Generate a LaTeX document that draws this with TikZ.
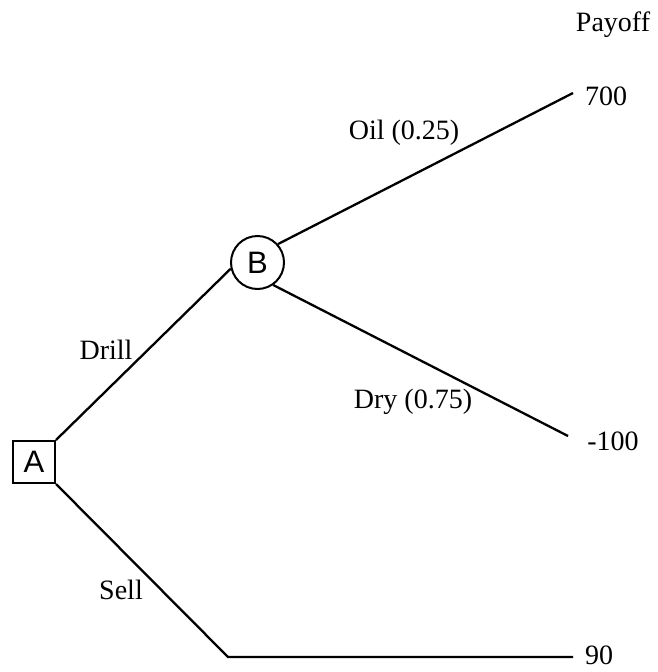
\documentclass[tikz,border=0pt]{standalone}
\usepackage{fontspec}
\setmainfont{Liberation Serif}
\newfontfamily\labelsans{Liberation Sans}
\begin{document}
\begin{tikzpicture}[x=1pt,y=-1pt,
  branch/.style={line width=2.3pt},
  lbl/.style={font=\fontsize{28}{32}\selectfont, inner sep=0pt},
  decision/.style={draw, line width=2pt, minimum size=42pt, inner sep=0pt,
    font=\labelsans\fontsize{31}{34}\selectfont},
  chance/.style={circle, draw, line width=2pt, minimum size=53pt, inner sep=0pt,
    font=\labelsans\fontsize{31}{34}\selectfont}]
\useasboundingbox (0,0) rectangle (657,672);

% decision and chance nodes
\node[decision] (A) at (34,462) {A};
\node[chance] (B) at (257.5,262.5) {B};

% branch end points
\coordinate (oilEnd) at (573,93);
\coordinate (dryEnd) at (568,436);
\coordinate (sellBend) at (228,657);
\coordinate (sellEnd) at (573,657);

% branches
\draw[branch] (A.north east) -- (B.193);
\draw[branch] (B.42) -- (oilEnd);
\draw[branch] (B.-55) -- (dryEnd);
\draw[branch, line join=miter] (A.south east) -- (sellBend) -- (sellEnd);

% labels
\node[lbl] (payoff) at (613,25) {Payoff};
\node[lbl] (v700) at (606,96) {700};
\node[lbl] (vm100) at (613,441) {-100};
\node[lbl] (v90) at (599,655) {90};
\node[lbl] (oil) at (404,133) {Oil (0.25)};
\node[lbl] (dry) at (413,402) {Dry (0.75)};
\node[lbl] (drill) at (106,350) {Drill};
\node[lbl] (sell) at (121,590) {Sell};
\end{tikzpicture}
\end{document}
